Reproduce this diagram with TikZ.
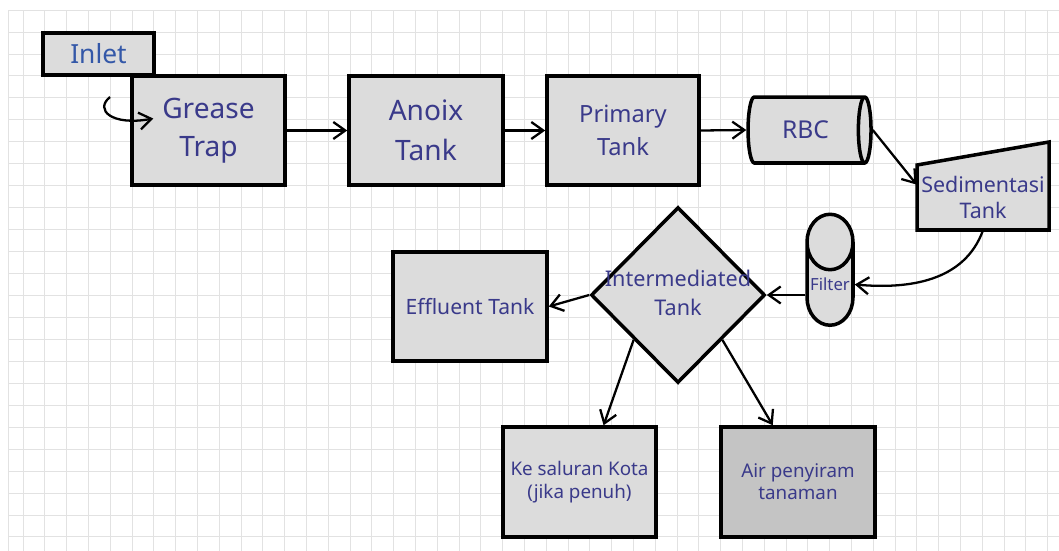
\documentclass[tikz,border=0pt]{standalone}
\usepackage{fontspec}
\setmainfont{Noto Sans}
\usepackage{tikz}
\usetikzlibrary{
    arrows.meta,
    shapes.geometric
}
\definecolor{tankfill}{RGB}{220,220,220}
\definecolor{airfill}{RGB}{196,196,196}
\definecolor{labelblue}{RGB}{58,58,138}
\definecolor{inletblue}{RGB}{52,88,168}
\definecolor{gridgray}{RGB}{226,226,226}

\begin{document}
\begin{tikzpicture}[
    x=0.02cm,
    y=-0.02cm,
    gridline/.style={
        draw=gridgray,
        line width=0.4pt
    },
    tankbox/.style={
        draw=black,
        line width=2pt,
        fill=tankfill,
        align=center,
        inner sep=0pt,
        text=labelblue
    },
    flowarrow/.style={
        -{Straight Barb[length=2.4mm, width=3.4mm]},
        line width=1.3pt
    }
]

\useasboundingbox[fill=white] (0,0) rectangle (1059,551);

% background grid
\draw[gridline] (8,10) -- (8,551);
\foreach \gx in {0,...,47}
    \draw[gridline] ({23+21.8*\gx},10) -- ({23+21.8*\gx},551);
\foreach \gy in {0,...,24}
    \draw[gridline] (8,{10+21.95*\gy}) -- (1059,{10+21.95*\gy});

% top row
\node[
    tankbox,
    minimum width=2.22cm,
    minimum height=0.84cm,
    text=inletblue,
    font=\fontsize{15}{18}\selectfont
] (inlet) at (98.5,54) {Inlet};

\node[
    tankbox,
    minimum width=3.06cm,
    minimum height=2.18cm,
    font=\fontsize{16}{21.5}\selectfont
] (grease) at (208.5,130.5) {Grease\\Trap};

\node[
    tankbox,
    minimum width=3.08cm,
    minimum height=2.18cm,
    font=\fontsize{16}{22.5}\selectfont
] (anoix) at (426,130.5) {Anoix\\Tank};

\node[
    tankbox,
    minimum width=3.04cm,
    minimum height=2.18cm,
    font=\fontsize{13.5}{19}\selectfont
] (primary) at (623,130.5) {Primary\\Tank};

\node[
    tankbox,
    cylinder,
    shape border rotate=0,
    aspect=0.7,
    minimum width=1.32cm,
    minimum height=2.46cm,
    font=\fontsize{14}{17}\selectfont
] (rbc) at (805.5,130) {RBC};

\filldraw[draw=black, line width=2pt, fill=tankfill]
    (917,165) -- (1049,142) -- (1049,230) -- (917,230) -- cycle;
\node[
    align=center,
    inner sep=0pt,
    minimum width=2.64cm,
    minimum height=1.3cm,
    text=labelblue,
    font=\fontsize{12.2}{14.7}\selectfont
] (sed) at (983,197.5) {Sedimentasi\\Tank};

% middle row
\node[
    tankbox,
    cylinder,
    shape border rotate=90,
    aspect=1.4,
    minimum width=0.92cm,
    minimum height=2.22cm,
    font=\fontsize{9.5}{11}\selectfont
] (filter) at (830,284.5) {Filter};

\node[
    tankbox,
    diamond,
    minimum width=3.48cm,
    minimum height=3.52cm,
    font=\fontsize{12.3}{17}\selectfont
] (mid) at (678,295) {\makebox[0pt]{\begin{tabular}{@{}c@{}}Intermediated\\Tank\end{tabular}}};

\node[
    tankbox,
    minimum width=3.08cm,
    minimum height=2.18cm,
    font=\fontsize{12}{15}\selectfont
] (effluent) at (470,306.5) {Effluent Tank};

% outlets
\node[
    tankbox,
    minimum width=3.06cm,
    minimum height=2.2cm,
    font=\fontsize{10.7}{12.7}\selectfont
] (kota) at (579.5,482) {Ke saluran Kota\\(jika penuh)};

\node[
    tankbox,
    fill=airfill,
    minimum width=3.08cm,
    minimum height=2.2cm,
    font=\fontsize{10.7}{12.7}\selectfont
] (air) at (798,482) {Air penyiram\\tanaman};

% flow
\coordinate (inflow) at (110,97);
\draw[flowarrow] (inflow) .. controls (94,110) and (112,126) .. ([xshift=0.46cm, yshift=0.24cm]grease.west);
\draw[flowarrow] (grease.east) -- (anoix.west);
\draw[flowarrow] (anoix.east) -- (primary.west);
\draw[flowarrow] (primary.east) -- (rbc.west);
\draw[flowarrow] (rbc.east) -- (sed.169);
\draw[flowarrow] (sed.south) to[out=-110, in=-5] (filter.east);
\draw[flowarrow] (filter.west |- mid.east) -- (mid.east);
\draw[flowarrow] (mid.west) -- (effluent.east);
\draw[flowarrow] (mid.south west) -- (kota.67);
\draw[flowarrow] (mid.south east) -- (air.114);

\end{tikzpicture}
\end{document}
